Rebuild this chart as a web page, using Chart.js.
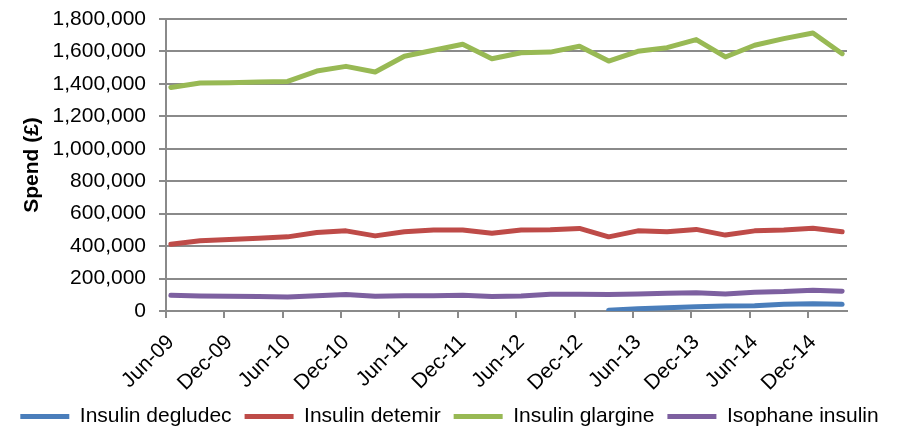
<!DOCTYPE html>
<html>
<head>
<meta charset="utf-8">
<script src="https://cdn.jsdelivr.net/npm/chart.js@4"></script>
<style>
    html, body { margin: 0; padding: 0; background: #fff; overflow: hidden; }
    #caixa { width: 899px; height: 437px; }
</style>
</head>
<body>
<div id="caixa"><canvas id="grafico-insulina"></canvas></div>
<script>
// trimestres, Jun-09 ate Mar-15
const trimestres = [
    "Jun-09", "Sep-09", "Dec-09", "Mar-10", "Jun-10", "Sep-10", "Dec-10", "Mar-11",
    "Jun-11", "Sep-11", "Dec-11", "Mar-12", "Jun-12", "Sep-12", "Dec-12", "Mar-13",
    "Jun-13", "Sep-13", "Dec-13", "Mar-14", "Jun-14", "Sep-14", "Dec-14", "Mar-15",
];

const degludec = [
    null, null, null, null, null, null, null, null,
    null, null, null, null, null, null, null, 5000,
    14000, 20000, 26000, 31000, 33000, 41000, 45000, 41000,
];
const detemir = [
    412000, 433000, 441000, 449000, 457000, 484000, 494000, 463000,
    488000, 499000, 499000, 479000, 499000, 501000, 509000, 457000,
    494000, 488000, 503000, 468000, 494000, 499000, 510000, 488000,
];
const glargine = [
    1378000, 1405000, 1407000, 1411000, 1415000, 1479000, 1508000, 1473000,
    1570000, 1607000, 1644000, 1555000, 1592000, 1596000, 1632000, 1541000,
    1601000, 1623000, 1673000, 1566000, 1638000, 1679000, 1714000, 1586000,
];
const isophane = [
    97000, 93000, 91000, 89000, 87000, 94000, 101000, 91000,
    94000, 94000, 97000, 90000, 93000, 103000, 103000, 101000,
    105000, 109000, 113000, 105000, 116000, 120000, 128000, 122000,
];

const series = [
    { nome: "Insulin degludec", valores: degludec, cor: "#4a7ebb" },
    { nome: "Insulin detemir", valores: detemir, cor: "#be4b48" },
    { nome: "Insulin glargine", valores: glargine, cor: "#98b954" },
    { nome: "Isophane insulin", valores: isophane, cor: "#7d60a0" },
];

const corGrade = "#8a8a8a";
const fonte = { family: "'Liberation Sans', Arial, sans-serif", size: 21 };
Chart.defaults.font.family = fonte.family;
Chart.defaults.color = "#000";

// eixo de datas: meio mes de folga em cada ponta (1/6 de trimestre)
const minX = -1 / 6;
const maxX = trimestres.length - 1 + 1 / 6;

const ctx = document.getElementById("grafico-insulina").getContext("2d");

new Chart(ctx, {
    type: "line",
    data: {
        datasets: series.map((s) => {
            return {
                label: s.nome,
                data: s.valores.map((v, i) => ({ x: i, y: v })),
                borderColor: s.cor,
                backgroundColor: s.cor,
                borderWidth: 5,
                borderCapStyle: "round",
                borderJoinStyle: "round",
                pointRadius: 0,
                tension: 0,
                fill: false,
            };
        }),
    },
    options: {
        responsive: true,
        maintainAspectRatio: false,
        animation: false,
        layout: { padding: { top: 19, right: 0, left: 0, bottom: 0 } },
        scales: {
            x: {
                type: "linear",
                position: "bottom",
                weight: 1,
                min: minX,
                max: maxX,
                afterBuildTicks: (scale) => {
                    scale.ticks = trimestres
                        .map((t, i) => ({ value: i }))
                        .filter((t) => t.value % 2 === 0);
                },
                ticks: {
                    callback: (v) => trimestres[v],
                    autoSkip: false,
                    minRotation: 45,
                    maxRotation: 45,
                    padding: 4,
                    font: fonte,
                    color: "#000",
                },
                grid: { display: false },
                border: { display: false },
                afterFit: (scale) => {
                    scale.height = 75;
                },
            },
            marcas: {
                type: "linear",
                position: "bottom",
                weight: 0,
                min: minX,
                max: maxX,
                afterBuildTicks: (scale) => {
                    scale.ticks = trimestres
                        .map((t, i) => ({ value: i - 1 / 6 }))
                        .filter((t, i) => i % 2 === 0);
                },
                ticks: { display: false },
                grid: { drawOnChartArea: false, color: corGrade, lineWidth: 2, tickLength: 7 },
                border: { color: corGrade, width: 2 },
            },
            y: {
                min: 0,
                max: 1800000,
                ticks: {
                    stepSize: 200000,
                    autoSkip: false,
                    callback: (v) => v.toLocaleString("en-GB"),
                    padding: 13,
                    font: fonte,
                    color: "#000",
                },
                grid: { color: corGrade, lineWidth: 2, tickLength: 7 },
                border: { color: corGrade, width: 2 },
                title: {
                    display: true,
                    text: "Spend (£)",
                    font: { family: fonte.family, size: 21, weight: "bold" },
                    color: "#000",
                    padding: { top: 20, bottom: 0 },
                },
                afterFit: (scale) => {
                    scale.width = 166;
                    scale.paddingTop = 0;
                    scale.paddingBottom = 0;
                },
            },
            // so para reservar a margem da direita sem apertar a legenda
            direita: {
                type: "linear",
                position: "right",
                ticks: { display: false },
                grid: { display: false },
                border: { display: false },
                afterFit: (scale) => {
                    scale.width = 52;
                },
            },
        },
        plugins: {
            legend: {
                position: "bottom",
                labels: {
                    usePointStyle: true,
                    pointStyle: "line",
                    pointStyleWidth: 49,
                    font: fonte,
                    color: "#000",
                    padding: 13,
                },
            },
            tooltip: { enabled: false },
        },
    },
});
</script>
</body>
</html>
